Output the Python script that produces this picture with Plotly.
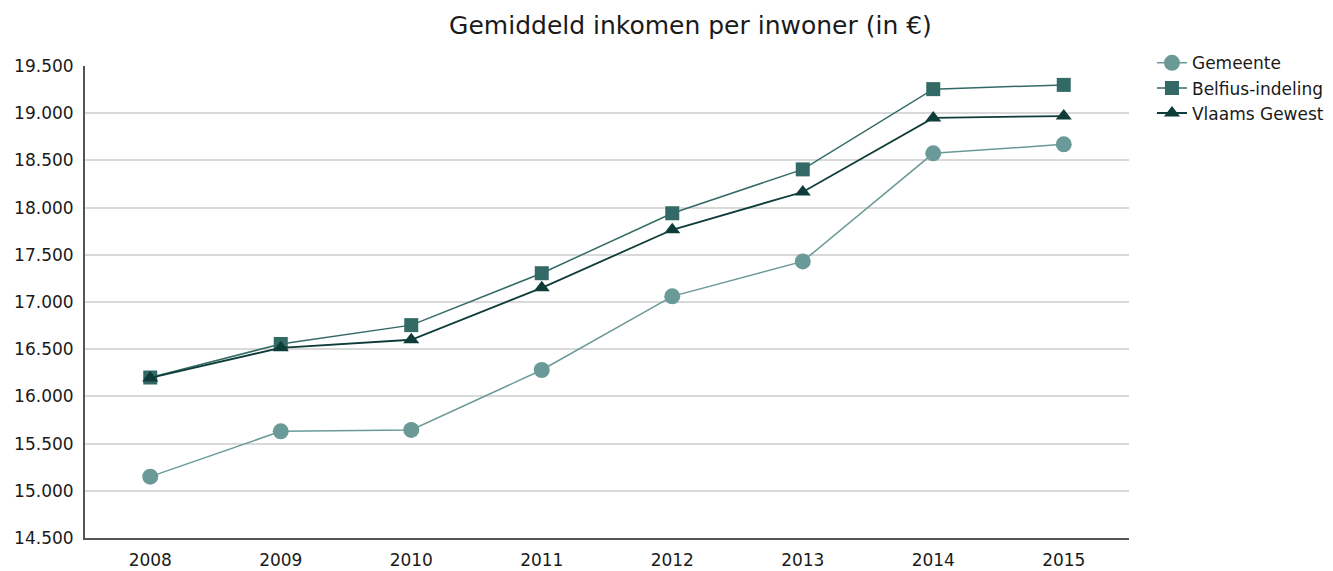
import plotly.graph_objects as go

years = ["2008", "2009", "2010", "2011", "2012", "2013", "2014", "2015"]
gemeente = [15150, 15630, 15645, 16280, 17060, 17430, 18575, 18670]
belfius = [16200, 16555, 16755, 17305, 17940, 18405, 19255, 19300]
vlaams = [16195, 16515, 16600, 17150, 17765, 18165, 18950, 18970]
tick_vals = [14500, 15000, 15500, 16000, 16500, 17000, 17500, 18000, 18500, 19000, 19500]
tick_text = ["14.500", "15.000", "15.500", "16.000", "16.500", "17.000", "17.500", "18.000", "18.500", "19.000", "19.500"]

fig = go.Figure()
fig.add_trace(go.Scatter(x=years, y=gemeente, name="Gemeente", mode="lines+markers",
                         line=dict(color="#6a9a98", width=1.5),
                         marker=dict(symbol="circle", size=16, color="#6a9a98")))
fig.add_trace(go.Scatter(x=years, y=belfius, name="Belfius-indeling", mode="lines+markers",
                         line=dict(color="#336a66", width=1.5),
                         marker=dict(symbol="square", size=14, color="#336a66")))
fig.add_trace(go.Scatter(x=years, y=vlaams, name="Vlaams Gewest", mode="lines+markers",
                         line=dict(color="#0e3d39", width=1.8),
                         marker=dict(symbol="triangle-up", size=14, color="#0e3d39")))

fig.update_layout(
    width=1333, height=571,
    paper_bgcolor="white", plot_bgcolor="white",
    margin=dict(l=77, r=204, t=58, b=41),
    font=dict(family="DejaVu Sans", size=17, color="#1a1a1a"),
    title=dict(text="Gemiddeld inkomen per inwoner (in €)", x=0.512, xanchor="center",
               y=0.970, yanchor="middle", font=dict(size=25, color="#1a1a1a")),
    showlegend=True,
    legend=dict(x=1.022, y=1.044, xanchor="left", yanchor="top",
                font=dict(size=17), tracegroupgap=0, itemsizing="trace",
                bgcolor="rgba(0,0,0,0)"),
    xaxis=dict(type="category", range=[-0.5, 7.5], showgrid=False,
               showline=True, linecolor="#555", linewidth=2,
               ticks="", tickfont=dict(size=17), ticklabelstandoff=6, automargin=False),
    yaxis=dict(range=[14500, 19500], tickvals=tick_vals, ticktext=tick_text,
               showgrid=True, gridcolor="#d9d9d9", gridwidth=1.5,
               showline=True, linecolor="#555", linewidth=2,
               ticks="", tickfont=dict(size=17), zeroline=False,
               ticklabelstandoff=6, automargin=False),
)

fig.write_html("out.html")
